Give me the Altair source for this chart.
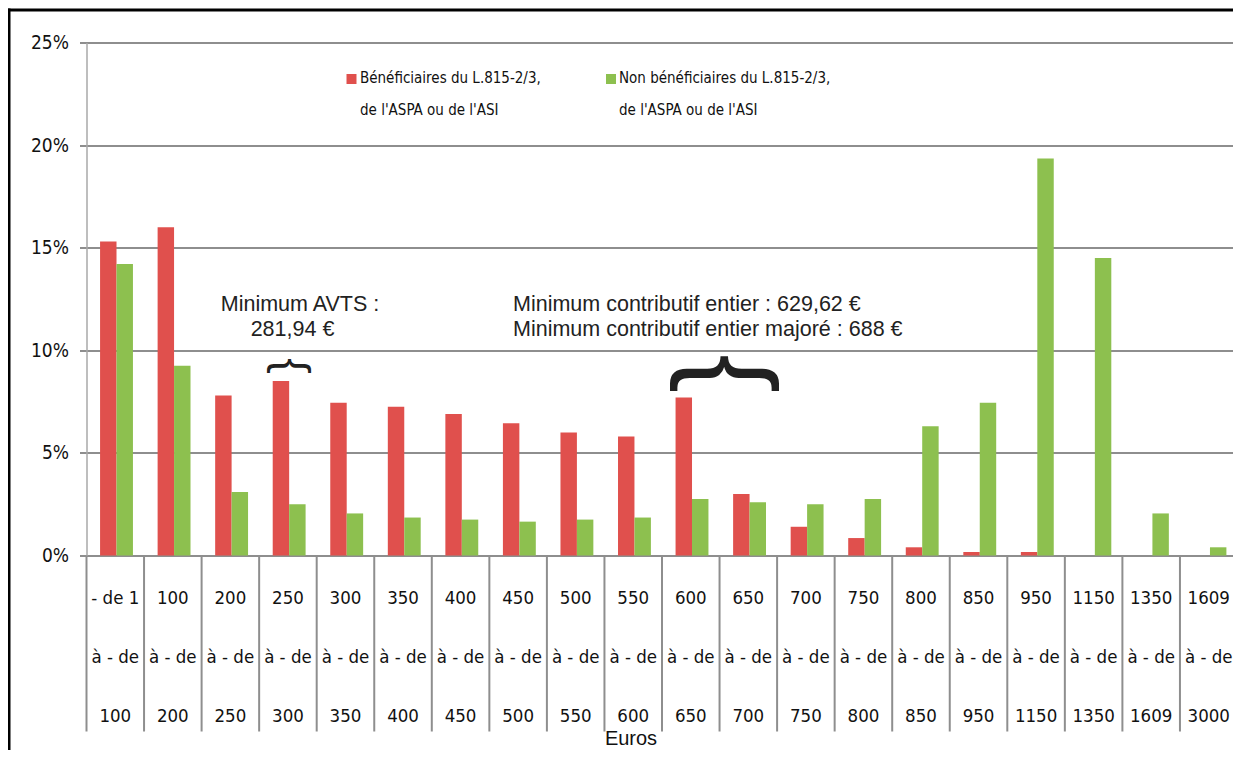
import altair as alt
import pandas as pd

# ---------------- data ----------------
lower = ["- de 1", "100", "200", "250", "300", "350", "400", "450", "500", "550",
         "600", "650", "700", "750", "800", "850", "950", "1150", "1350", "1609"]
upper = ["100", "200", "250", "300", "350", "400", "450", "500", "550", "600",
         "650", "700", "750", "800", "850", "950", "1150", "1350", "1609", "3000"]
middle_word = "à - de"

red_vals = [15.3, 16.0, 7.8, 8.5, 7.45, 7.25, 6.9, 6.45, 6.0, 5.8,
            7.7, 3.0, 1.4, 0.85, 0.4, 0.17, 0.17, 0.0, 0.0, 0.0]
green_vals = [14.2, 9.25, 3.1, 2.5, 2.05, 1.85, 1.75, 1.65, 1.75, 1.85,
              2.75, 2.6, 2.5, 2.75, 6.3, 7.45, 19.35, 14.5, 2.05, 0.4]

series_names = ["Bénéficiaires du L.815-2/3,\nde l'ASPA ou de l'ASI",
                "Non bénéficiaires du L.815-2/3,\nde l'ASPA ou de l'ASI"]
series_colors = ["#E0504D", "#8DC04F"]

y_ticks = [0, 5, 10, 15, 20, 25]
x_title = "Euros"
annot_avts_1 = ["Minimum AVTS :"]
annot_avts_2 = ["281,94 €"]
annot_contrib = ["Minimum contributif entier : 629,62 €\nMinimum contributif entier majoré : 688 €"]
brace = ["}"]

# ---------------- tables ----------------
labels = [f"{lo}|{middle_word}|{up}" for lo, up in zip(lower, upper)]
rows = []
for lab, r, g in zip(labels, red_vals, green_vals):
    rows.append({"cat": lab, "serie": series_names[0], "value": r})
    rows.append({"cat": lab, "serie": series_names[1], "value": g})
df = pd.DataFrame(rows)
cats_df = pd.DataFrame({"cat": labels})

NARROW = "DejaVu Sans Condensed, Liberation Sans Narrow, sans-serif"
SANS = "Liberation Sans, Arial, sans-serif"
GRID = "#8e8e8e"

W, H = 1146.5, 513      # visible plot width (to the page edge)
X_RANGE = 1151          # full width of the 20 category bands

bars = alt.Chart(df).mark_bar().encode(
    x=alt.X("cat:N", sort=labels,
            scale=alt.Scale(paddingInner=0, paddingOuter=0, range=[0, X_RANGE]),
            axis=alt.Axis(title=x_title, labelExpr="split(datum.label, '|')",
                          labelAngle=0, labelFont=NARROW, labelFontSize=18.5,
                          labelColor="#111111", labelLineHeight=59,
                          labelPadding=33, ticks=False, grid=False,
                          domainColor=GRID, domainWidth=2,
                          titleFont=SANS, titleFontSize=20, titleFontWeight="normal",
                          titleColor="#111111", titleX=544, titleY=182.5,
                          titleBaseline="middle", titleAlign="center")),
    xOffset=alt.XOffset("serie:N", sort=series_names,
                        scale=alt.Scale(paddingInner=0, paddingOuter=0.75, align=0.55)),
    y=alt.Y("value:Q", scale=alt.Scale(domain=[0, 25]),
            axis=alt.Axis(values=y_ticks, labelExpr="datum.value + '%'", title=None,
                          labelFont=NARROW, labelFontSize=19, labelColor="#111111",
                          labelPadding=11, tickSize=7, tickColor=GRID, tickWidth=2,
                          grid=True, gridColor=GRID, gridWidth=2,
                          domainColor="#a8a8a8", domainWidth=1.5)),
    color=alt.Color("serie:N", sort=series_names,
                    scale=alt.Scale(domain=series_names, range=series_colors),
                    legend=None),
)

separators = alt.Chart(cats_df).mark_rule(color=GRID, strokeWidth=2).encode(
    x=alt.X("cat:N", sort=labels, bandPosition=0),
    y=alt.value(H),
    y2=alt.value(689),
)

# legend (manual, in plot)
leg_sq_red = alt.Chart(pd.DataFrame({"s": [series_names[0]]})).mark_square(
    size=100, opacity=1, color=series_colors[0]).encode(x=alt.value(265), y=alt.value(36.5))
leg_sq_green = alt.Chart(pd.DataFrame({"s": [series_names[1]]})).mark_square(
    size=100, opacity=1, color=series_colors[1]).encode(x=alt.value(524.5), y=alt.value(36.5))
leg_txt_red = alt.Chart(pd.DataFrame({"s": [series_names[0]]})).mark_text(
    align="left", baseline="middle", font=NARROW, fontSize=15, lineBreak="\n",
    lineHeight=32, color="#111111").encode(text="s:N", x=alt.value(273.5), y=alt.value(35.5))
leg_txt_green = alt.Chart(pd.DataFrame({"s": [series_names[1]]})).mark_text(
    align="left", baseline="middle", font=NARROW, fontSize=15, lineBreak="\n",
    lineHeight=32, color="#111111").encode(text="s:N", x=alt.value(532.5), y=alt.value(35.5))

# annotations
t_avts1 = alt.Chart(pd.DataFrame({"t": annot_avts_1})).mark_text(
    align="center", baseline="middle", font=SANS, fontSize=21.5, color="#222222"
).encode(text="t:N", x=alt.value(213.5), y=alt.value(262.5))
t_avts2 = alt.Chart(pd.DataFrame({"t": annot_avts_2})).mark_text(
    align="center", baseline="middle", font=SANS, fontSize=21.5, color="#222222"
).encode(text="t:N", x=alt.value(206), y=alt.value(287.5))
t_contrib = alt.Chart(pd.DataFrame({"t": annot_contrib})).mark_text(
    align="left", baseline="middle", font=SANS, fontSize=21.5, color="#222222",
    lineBreak="\n", lineHeight=25
).encode(text="t:N", x=alt.value(426.5), y=alt.value(262))
brace_small = alt.Chart(pd.DataFrame({"t": brace})).mark_text(
    align="center", baseline="middle", font=SANS, fontSize=47, angle=270, color="#222222"
).encode(text="t:N", x=alt.value(200), y=alt.value(323.5))
brace_big = alt.Chart(pd.DataFrame({"t": brace})).mark_text(
    align="center", baseline="middle", font=SANS, fontSize=116, angle=270, color="#222222"
).encode(text="t:N", x=alt.value(633), y=alt.value(331))

# outer frame
frame_left = alt.Chart(pd.DataFrame({"f": [0]})).mark_rule(color="black", strokeWidth=3).encode(
    x=alt.value(-77.5), y=alt.value(-34), y2=alt.value(760))
frame_top = alt.Chart(pd.DataFrame({"f": [0]})).mark_rule(color="black", strokeWidth=3).encode(
    x=alt.value(-79), x2=alt.value(1200), y=alt.value(-32.5))

chart = alt.layer(
    bars, separators, leg_sq_red, leg_sq_green, leg_txt_red, leg_txt_green,
    t_avts1, t_avts2, t_contrib, brace_small, brace_big, frame_left, frame_top
).properties(
    width=W, height=H,
    autosize=alt.AutoSizeParams(type="none"),
    padding={"left": 78.5, "top": 34.5, "right": 0, "bottom": 194.5},
    background="white",
).configure_view(stroke=None)

chart.save("out.html", embed_options={"renderer": "svg", "actions": False})
